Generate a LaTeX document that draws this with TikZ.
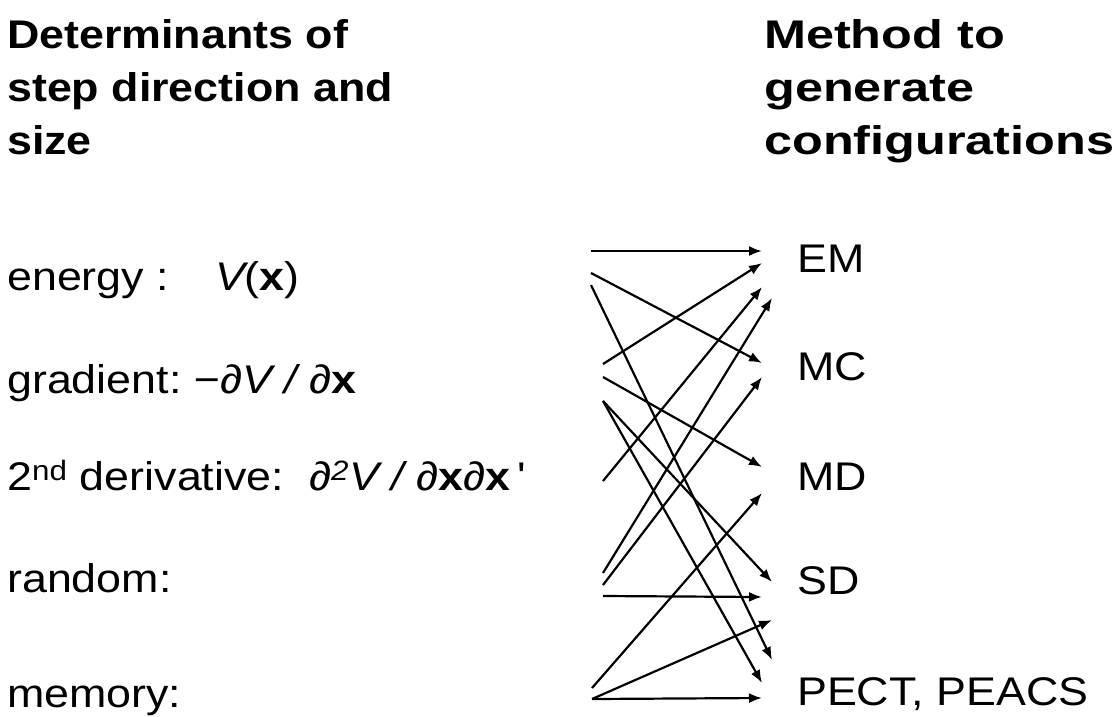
\documentclass[tikz,border=0pt]{standalone}
\usepackage{fontspec}
\setmainfont{Liberation Sans}[FakeStretch=1.12]
\newfontfamily\wideheadfont{Liberation Sans}[FakeStretch=1.26]
\usetikzlibrary{arrows.meta}
\begin{document}
\begin{tikzpicture}[x=1pt,y=-1pt,
  every node/.style={inner sep=0pt,font=\fontsize{40}{54}\selectfont},
  head/.style={anchor=base west,align=left,font=\fontsize{40}{53}\selectfont\bfseries},
  lab/.style={anchor=base west},
  arr/.style={line width=2.2pt,-{Latex[length=13pt,width=10pt]}}]
\useasboundingbox (0,0) rectangle (1119,716);

% column headings (anchored at the last line)
\node[head] (hleft) at (7,154) {Determinants of\\step direction and\\size};
\node[head,font=\fontsize{40}{53}\wideheadfont\bfseries] (hright) at (764,154) {Method to\\generate\\configurations};

% determinants
\node[lab] (energy) at (7,290) {energy :\hspace{46pt}{\itshape V}(\textbf{x})};
\node[lab] (grad) at (7,393) {gradient:\ {\itshape −∂V / ∂}\textbf{x}};
\node[lab] (second) at (7,490) {2\textsuperscript{nd} derivative:\ \ {\itshape ∂\textsuperscript{2}V / ∂}\textbf{x}{\itshape ∂}\textbf{x}\,\textquotesingle};
\node[lab] (random) at (7,592) {random:};
\node[lab] (memory) at (7,707) {memory:};

% methods
\node[lab] (EM) at (797,272) {EM};
\node[lab] (MC) at (797,380) {MC};
\node[lab] (MD) at (797,490) {MD};
\node[lab] (SD) at (797,594) {SD};
\node[lab] (PE) at (797,705) {PECT, PEACS};

% arrow tails
\coordinate (e1) at (591,251);
\coordinate (e2) at (591,273);
\coordinate (e3) at (591,285);
\coordinate (g1) at (603,364);
\coordinate (g2) at (603,377);
\coordinate (g3) at (603,401);
\coordinate (d1) at (603,481);
\coordinate (r1) at (603,573);
\coordinate (r2) at (603,585);
\coordinate (r3) at (603,596);
\coordinate (m1) at (592,688);
\coordinate (m2) at (592,699);

% arrow heads
\coordinate (t1) at (762,251);
\coordinate (t2) at (762,263);
\coordinate (t3) at (762,287);
\coordinate (t4) at (772,298);
\coordinate (t5) at (762,363);
\coordinate (t6) at (762,377);
\coordinate (t7) at (762,467);
\coordinate (t8) at (762,493);
\coordinate (t9) at (772,582);
\coordinate (t10) at (762,597);
\coordinate (t11) at (772,620);
\coordinate (t12) at (772,660);
\coordinate (t13) at (762,683);
\coordinate (t14) at (762,698);

\draw[arr] (e1) -- (t1);
\draw[arr] (e2) -- (t5);
\draw[arr] (e3) -- (t12);
\draw[arr] (g1) -- (t2);
\draw[arr] (g2) -- (t7);
\draw[arr] (g3) -- (t9);
\draw[arr] (g3) -- (t13);
\draw[arr] (d1) -- (t3);
\draw[arr] (r1) -- (t4);
\draw[arr] (r2) -- (t6);
\draw[arr] (r3) -- (t10);
\draw[arr] (m1) -- (t8);
\draw[arr] (m2) -- (t11);
\draw[arr] (m2) -- (t14);
\end{tikzpicture}
\end{document}
